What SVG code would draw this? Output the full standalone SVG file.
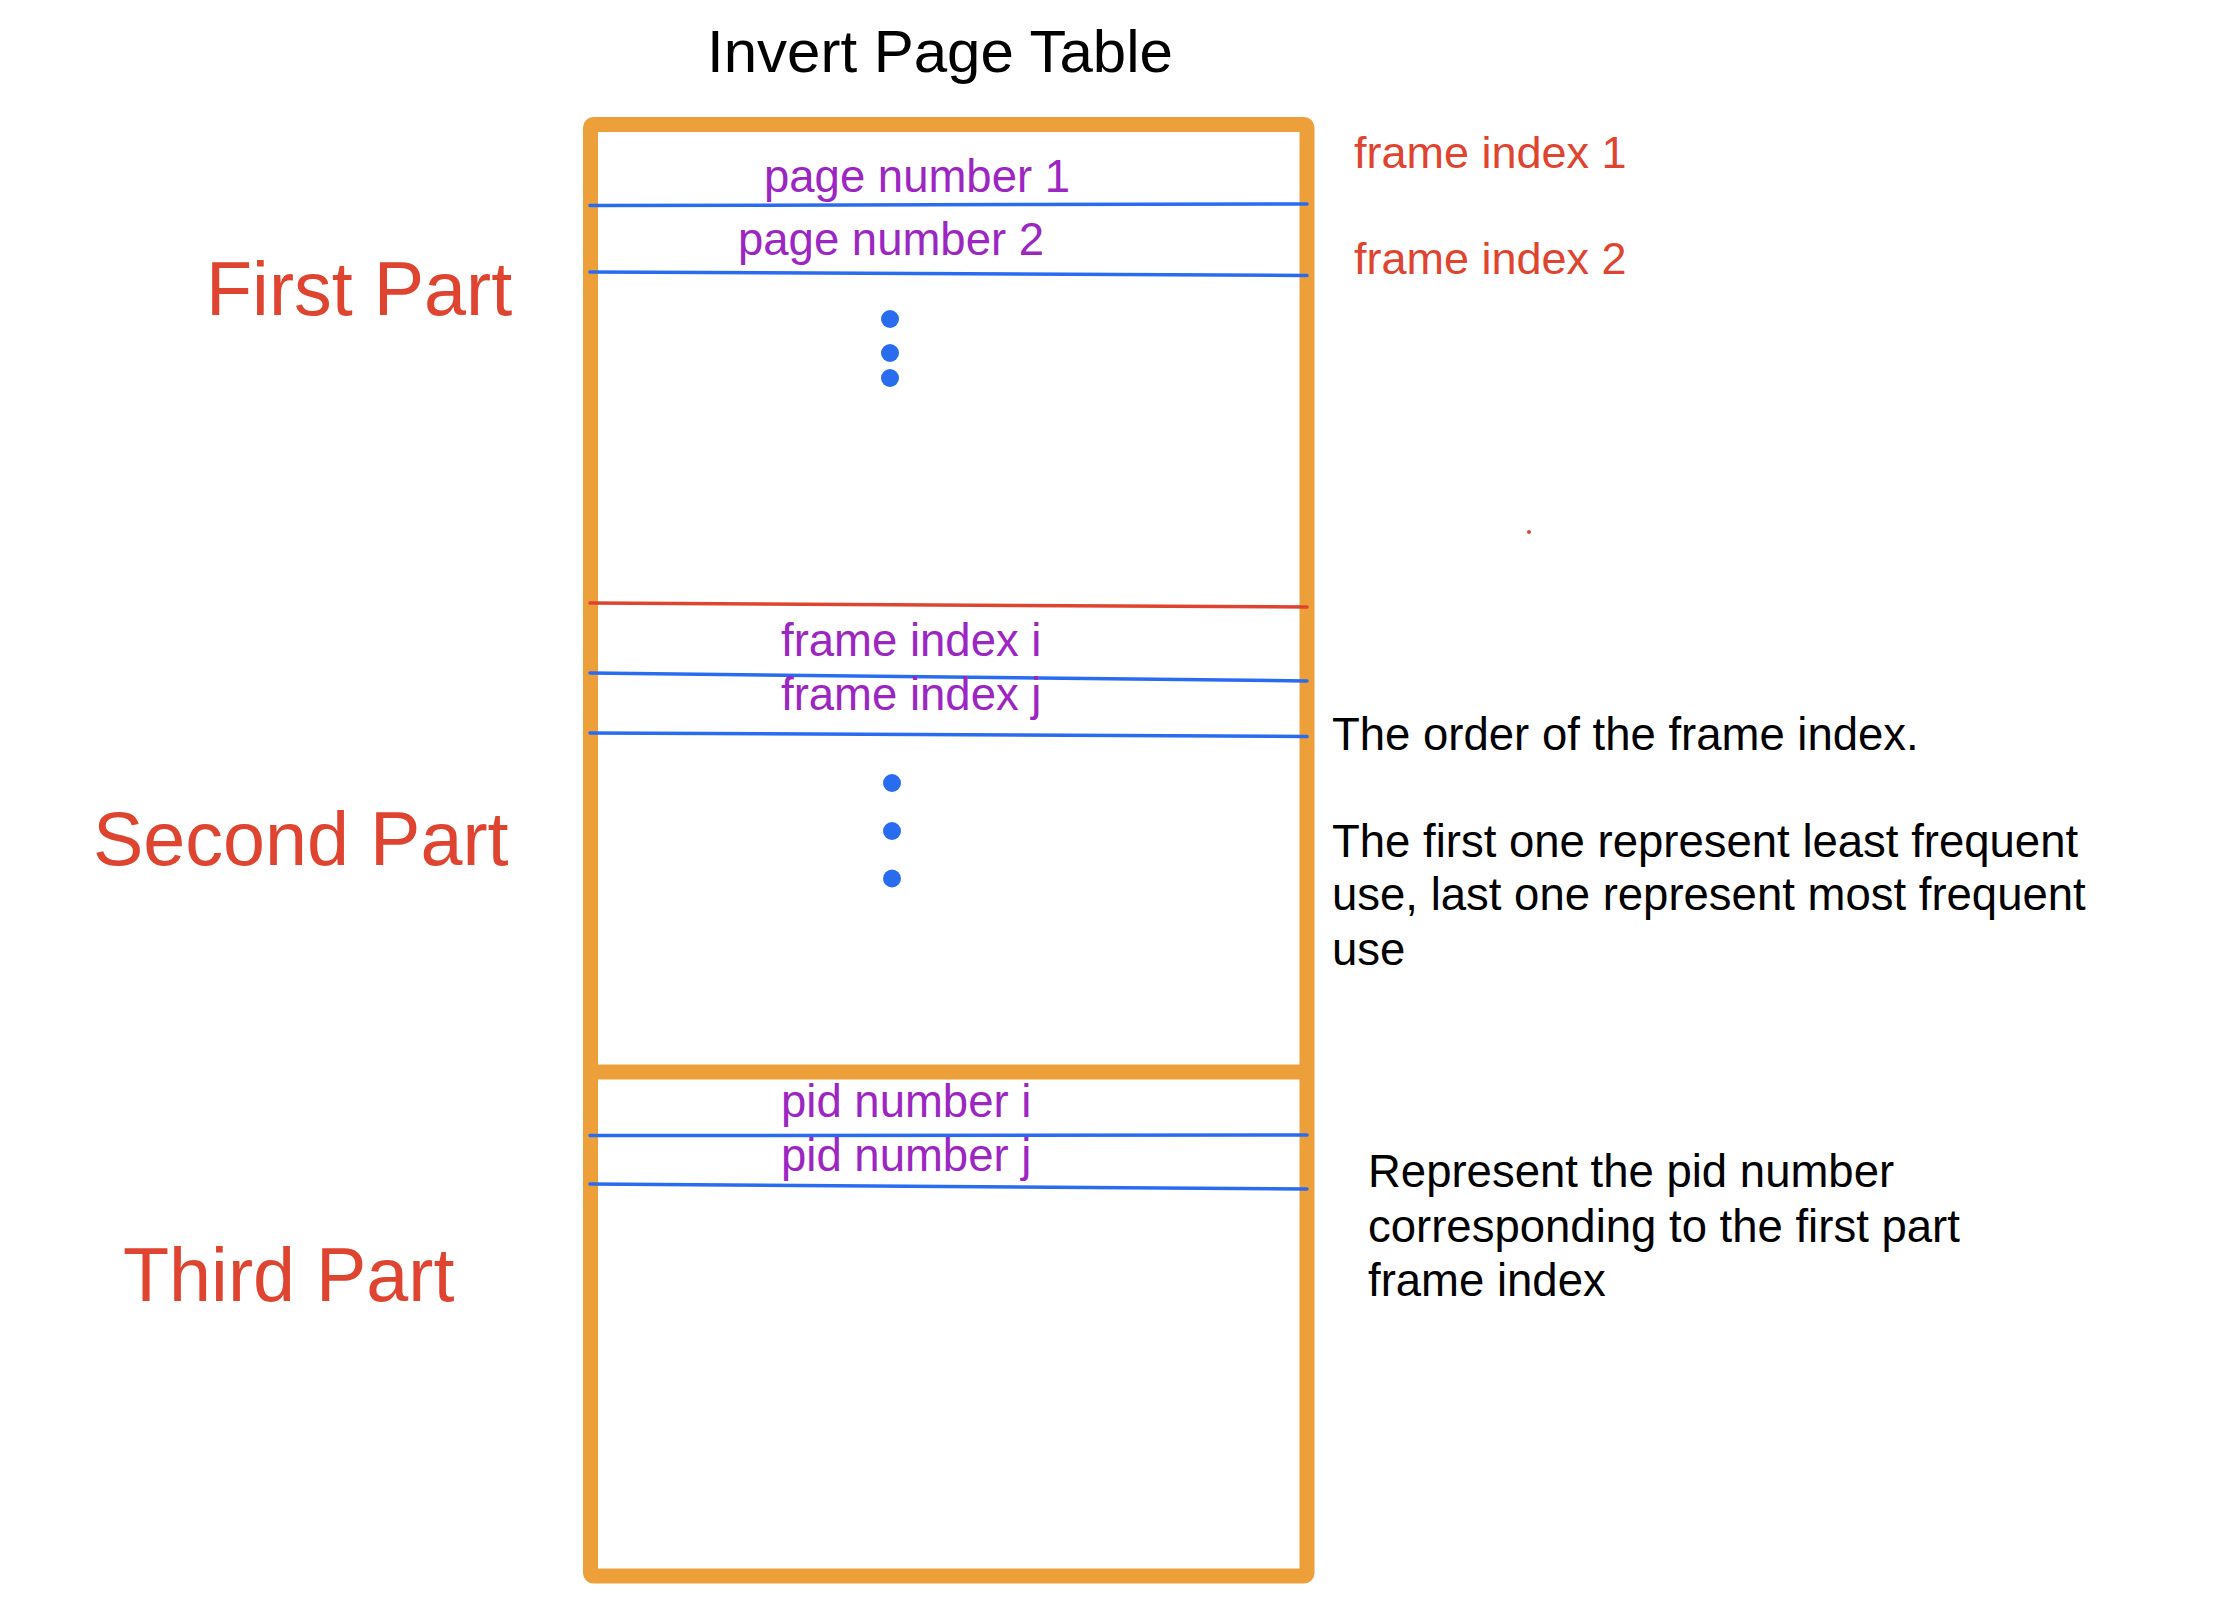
<svg xmlns="http://www.w3.org/2000/svg" width="2234" height="1616" viewBox="0 0 2234 1616">
<style>
.frame{fill:none;stroke:#EDA03A;stroke-width:15;stroke-linejoin:round}
.blue{stroke:#2A6CF0;stroke-width:3.5;stroke-linecap:round;fill:none}
.red{stroke:#DF4430;stroke-width:3.5;stroke-linecap:round;fill:none}
.dot{fill:#2A6CF0}
.cell{font-family:"Liberation Sans",Arial,sans-serif;font-size:45.5px;fill:#9B26C2}
.fi{font-family:"Liberation Sans",Arial,sans-serif;font-size:45px;fill:#DF4430}
.part{font-family:"Liberation Sans",Arial,sans-serif;font-size:75.5px;fill:#DF4430}
.note{font-family:"Liberation Sans",Arial,sans-serif;font-size:45.5px;fill:#000}
.title{font-family:"Liberation Sans",Arial,sans-serif;font-size:60px;fill:#000}
</style>
<rect width="2234" height="1616" fill="#fff"/>
<g id="title"><text class="title" x="707" y="72">Invert Page Table</text></g>
<g id="table">
<rect class="frame" x="590.5" y="124.5" width="716.5" height="1451.5" rx="3"/>
<line class="frame" x1="590" y1="1072" x2="1307" y2="1072"/>
</g>
<g id="connectors">
<line class="blue" x1="590" y1="205.5" x2="1307" y2="204"/>
<line class="blue" x1="590" y1="272" x2="1307" y2="275.5"/>
<line class="red" x1="590" y1="603" x2="1307" y2="607"/>
<line class="blue" x1="590" y1="673" x2="1307" y2="681"/>
<line class="blue" x1="590" y1="733" x2="1307" y2="736.5"/>
<line class="blue" x1="590" y1="1135.5" x2="1307" y2="1135"/>
<line class="blue" x1="590" y1="1184" x2="1307" y2="1189"/>
</g>
<g id="cells">
<text class="cell" x="764" y="192">page number 1</text>
<text class="cell" x="738" y="255">page number 2</text>
<text class="cell" x="781" y="656">frame index i</text>
<text class="cell" x="781" y="710">frame index j</text>
<text class="cell" x="781" y="1117">pid number i</text>
<text class="cell" x="781" y="1171">pid number j</text>
</g>
<g id="dots">
<circle class="dot" cx="890" cy="319" r="9"/>
<circle class="dot" cx="890" cy="353" r="9"/>
<circle class="dot" cx="890" cy="378" r="9"/>
<circle class="dot" cx="892" cy="783" r="9"/>
<circle class="dot" cx="892" cy="831" r="9"/>
<circle class="dot" cx="892" cy="878.5" r="9"/>
<circle cx="1529" cy="532" r="2" fill="#DF4430"/>
</g>
<g id="frame-labels">
<text class="fi" x="1354" y="168">frame index 1</text>
<text class="fi" x="1354" y="274">frame index 2</text>
</g>
<g id="parts">
<text class="part" x="206" y="315">First Part</text>
<text class="part" x="93" y="865">Second Part</text>
<text class="part" x="123" y="1301">Third Part</text>
</g>
<g id="notes">
<text class="note" x="1332" y="750">The order of the frame index.</text>
<text class="note" x="1332" y="857">The first one represent least frequent</text>
<text class="note" x="1332" y="910">use, last one represent most frequent</text>
<text class="note" x="1332" y="965">use</text>
<text class="note" x="1368" y="1187">Represent the pid number</text>
<text class="note" x="1368" y="1242">corresponding to the first part</text>
<text class="note" x="1368" y="1296">frame index</text>
</g>
</svg>
